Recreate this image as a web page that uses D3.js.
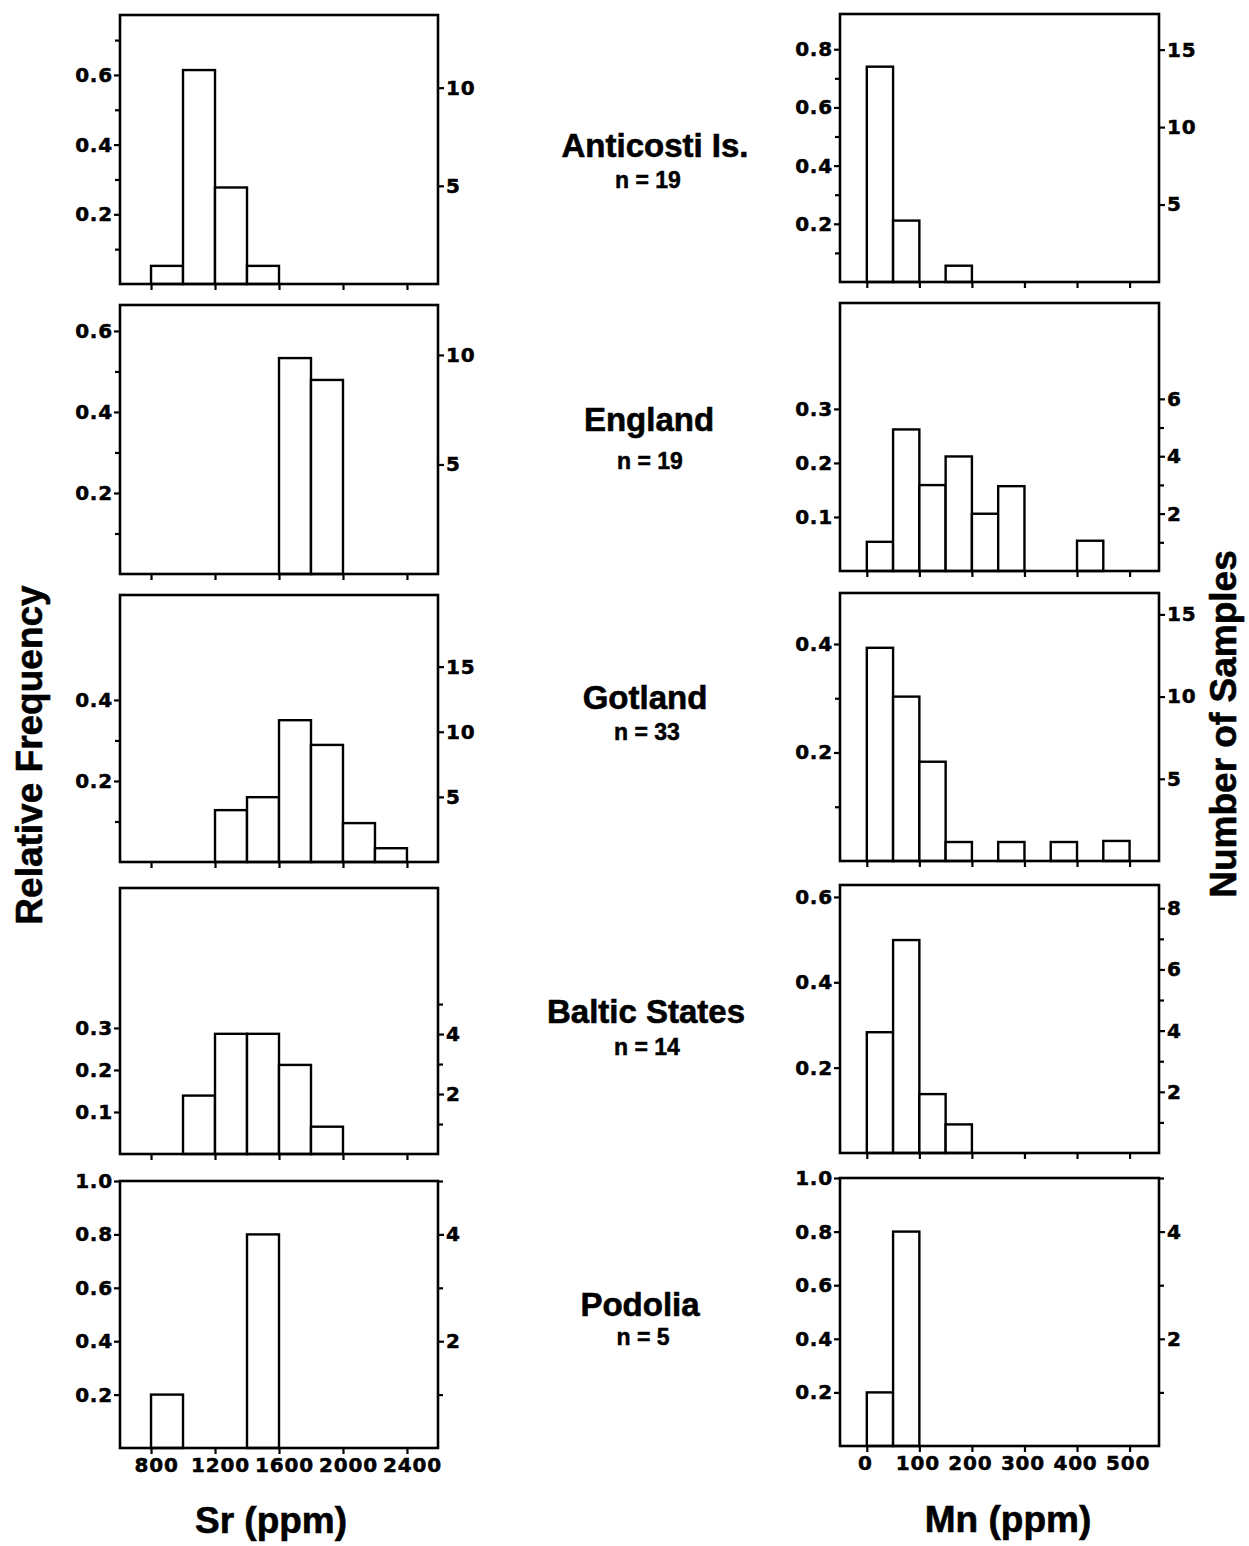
<!DOCTYPE html>
<html>
<head>
<meta charset="utf-8">
<script src="https://cdn.jsdelivr.net/npm/d3@7"></script>
<style>
	body { margin: 0; background: #fff; }
	text { fill: #000; }
</style>
</head>
<body>
<div id="chart"></div>
<script>
// data (relative frequency per bin)
var sites = ['Anticosti Is.', 'England', 'Gotland', 'Baltic States', 'Podolia'];
var sampleSizes = [19, 19, 33, 14, 5];

var srBins = [
	[800, 1000, 1200, 1400],
	[1600, 1800],
	[1200, 1400, 1600, 1800, 2000, 2200],
	[1000, 1200, 1400, 1600, 1800],
	[800, 1400]
];
var srFreq = [
	[0.052, 0.614, 0.277, 0.052],
	[0.533, 0.479],
	[0.128, 0.160, 0.350, 0.289, 0.096, 0.034],
	[0.139, 0.286, 0.286, 0.212, 0.065],
	[0.2, 0.8]
];
var mnBins = [
	[0, 50, 150],
	[0, 50, 100, 150, 200, 250, 400],
	[0, 50, 100, 150, 250, 350, 450],
	[0, 50, 100, 150],
	[0, 50]
];
var mnFreq = [
	[0.740, 0.211, 0.056],
	[0.054, 0.262, 0.159, 0.212, 0.106, 0.157, 0.056],
	[0.393, 0.303, 0.183, 0.035, 0.035, 0.035, 0.037],
	[0.283, 0.499, 0.138, 0.067],
	[0.2, 0.8]
];

var srTicks = [800, 1200, 1600, 2000, 2400];
var mnTicks = [0, 100, 200, 300, 400, 500];

// axis tops and tick values for each panel
var srFreqMax = [0.772, 0.664, 0.659, 0.633, 1.0];
var srCountMax = [13.7, 12.28, 20.5, 8.87, 5];
var mnFreqMax = [0.921, 0.496, 0.494, 0.628, 1.0];
var mnCountMax = [17.3, 9.34, 16.3, 8.76, 5];

var srFreqMajor = [[0.2, 0.4, 0.6], [0.2, 0.4, 0.6], [0.2, 0.4], [0.1, 0.2, 0.3], [0.2, 0.4, 0.6, 0.8, 1.0]];
var srFreqMinor = [[0.1, 0.3, 0.5, 0.7], [0.1, 0.3, 0.5], [0.1, 0.3], [], []];
var srCountMajor = [[5, 10], [5, 10], [5, 10, 15], [2, 4], [2, 4]];
var srCountMinor = [[], [], [], [1, 3, 5], [1, 3, 5]];
var mnFreqMajor = [[0.2, 0.4, 0.6, 0.8], [0.1, 0.2, 0.3], [0.2, 0.4], [0.2, 0.4, 0.6], [0.2, 0.4, 0.6, 0.8, 1.0]];
var mnFreqMinor = [[0.1, 0.3, 0.5, 0.7], [], [0.1, 0.3], [], []];
var mnCountMajor = [[5, 10, 15], [2, 4, 6], [5, 10, 15], [2, 4, 6, 8], [2, 4]];
var mnCountMinor = [[], [1, 3, 5], [], [1, 3, 5, 7], [1, 3, 5]];

// layout
var leftRows = [[15, 284], [305, 574], [595, 862], [888, 1154], [1181, 1448]];
var rightRows = [[14, 282], [303, 571], [593, 861], [885, 1153], [1178, 1446]];
var titlePos = [[655, 157, 648, 188], [649, 431, 650, 469], [645, 709, 647, 740], [646, 1023, 647, 1055], [640, 1316, 643, 1345]];

var tickFont = 'DejaVu Sans, sans-serif';
var titleFont = 'Liberation Sans, Arial, sans-serif';

var svg = d3.select('#chart')
	.append('svg')
	.attr('width', 1249)
	.attr('height', 1546)
	.style('background', '#fff');

var srScale = d3.scaleLinear().domain([606, 2594]).range([120, 438]);
var mnScale = d3.scaleLinear().domain([-51, 556]).range([840, 1159]);

function styleAxis(g, fontSize) {
	g.select('.domain').remove();
	g.selectAll('.tick line').attr('stroke', '#000').attr('stroke-width', 2.2);
	g.selectAll('.tick text')
		.attr('fill', '#000')
		.attr('stroke', '#000')
		.attr('stroke-width', 0.5)
		.style('font-family', tickFont)
		.style('font-weight', 'bold')
		.style('font-size', fontSize + 'px')
		.style('letter-spacing', '0.8px');
}

function drawPanel(p) {
	var top = p.rows[0], bottom = p.rows[1];
	var x0 = p.x.range()[0], x1 = p.x.range()[1];
	var y = d3.scaleLinear().domain([0, p.fMax]).range([bottom, top]);
	var yc = d3.scaleLinear().domain([0, p.cMax]).range([bottom, top]);

	var g = svg.append('g');

	g.selectAll('rect.bar')
		.data(p.bins.map((b, j) => [b, p.freq[j]]))
		.enter()
		.append('rect')
		.attr('class', 'bar')
		.attr('x', d => p.x(d[0]))
		.attr('width', d => p.x(d[0] + p.binWidth) - p.x(d[0]))
		.attr('y', d => y(d[1]))
		.attr('height', d => bottom - y(d[1]))
		.attr('fill', '#fff')
		.attr('stroke', '#000')
		.attr('stroke-width', 2.4);

	g.append('rect')
		.attr('x', x0)
		.attr('y', top)
		.attr('width', x1 - x0)
		.attr('height', bottom - top)
		.attr('fill', 'none')
		.attr('stroke', '#000')
		.attr('stroke-width', 2.6);

	g.append('g')
		.attr('transform', `translate(${x0},0)`)
		.call(d3.axisLeft(y).tickValues(p.fMajor).tickSize(6).tickPadding(1).tickFormat(d3.format('.1f')))
		.call(a => styleAxis(a, 20));
	g.append('g')
		.attr('transform', `translate(${x0},0)`)
		.call(d3.axisLeft(y).tickValues(p.fMinor).tickSize(5).tickFormat(''))
		.call(a => styleAxis(a, 20));

	g.append('g')
		.attr('transform', `translate(${x1},0)`)
		.call(d3.axisRight(yc).tickValues(p.cMajor).tickSize(6).tickPadding(2).tickFormat(d3.format('d')))
		.call(a => styleAxis(a, 20));
	g.append('g')
		.attr('transform', `translate(${x1},0)`)
		.call(d3.axisRight(yc).tickValues(p.cMinor).tickSize(5).tickFormat(''))
		.call(a => styleAxis(a, 20));

	var xAxis = g.append('g')
		.attr('transform', `translate(0,${bottom})`)
		.call(d3.axisBottom(p.x).tickValues(p.xTicks).tickSize(6).tickPadding(4)
			.tickFormat(p.showX ? d3.format('d') : ''))
		.call(a => styleAxis(a, 20));
	xAxis.selectAll('.tick text').attr('dx', p.labelShift);
}

for (let i = 0; i < sites.length; i++) {
	drawPanel({
		x: srScale, rows: leftRows[i], bins: srBins[i], freq: srFreq[i], binWidth: 200,
		fMax: srFreqMax[i], cMax: srCountMax[i],
		fMajor: srFreqMajor[i], fMinor: srFreqMinor[i],
		cMajor: srCountMajor[i], cMinor: srCountMinor[i],
		xTicks: srTicks, showX: i == sites.length - 1, labelShift: 5
	});
	drawPanel({
		x: mnScale, rows: rightRows[i], bins: mnBins[i], freq: mnFreq[i], binWidth: 50,
		fMax: mnFreqMax[i], cMax: mnCountMax[i],
		fMajor: mnFreqMajor[i], fMinor: mnFreqMinor[i],
		cMajor: mnCountMajor[i], cMinor: mnCountMinor[i],
		xTicks: mnTicks, showX: i == sites.length - 1, labelShift: -2
	});
}

// site names in the middle column
var labels = svg.append('g')
	.selectAll('g')
	.data(sites)
	.enter()
	.append('g');

labels.append('text')
	.attr('x', (d, i) => titlePos[i][0])
	.attr('y', (d, i) => titlePos[i][1])
	.attr('text-anchor', 'middle')
	.attr('stroke', '#000')
	.attr('stroke-width', 0.6)
	.style('font-family', titleFont)
	.style('font-weight', 'bold')
	.style('font-size', '33px')
	.text(d => d);

labels.append('text')
	.attr('x', (d, i) => titlePos[i][2])
	.attr('y', (d, i) => titlePos[i][3])
	.attr('text-anchor', 'middle')
	.attr('stroke', '#000')
	.attr('stroke-width', 0.5)
	.style('font-family', titleFont)
	.style('font-weight', 'bold')
	.style('font-size', '23px')
	.text((d, i) => 'n = ' + sampleSizes[i]);

// axis titles
function axisTitle(txt, x, y, rotate) {
	svg.append('text')
		.attr('transform', `translate(${x},${y})` + (rotate ? ' rotate(-90)' : ''))
		.attr('text-anchor', 'middle')
		.attr('stroke', '#000')
		.attr('stroke-width', 0.6)
		.style('font-family', titleFont)
		.style('font-weight', 'bold')
		.style('font-size', '37px')
		.text(txt);
}
axisTitle('Relative Frequency', 42, 755, true);
axisTitle('Number of Samples', 1236, 724, true);
axisTitle('Sr (ppm)', 271, 1533, false);
axisTitle('Mn (ppm)', 1008, 1532, false);
</script>
</body>
</html>
